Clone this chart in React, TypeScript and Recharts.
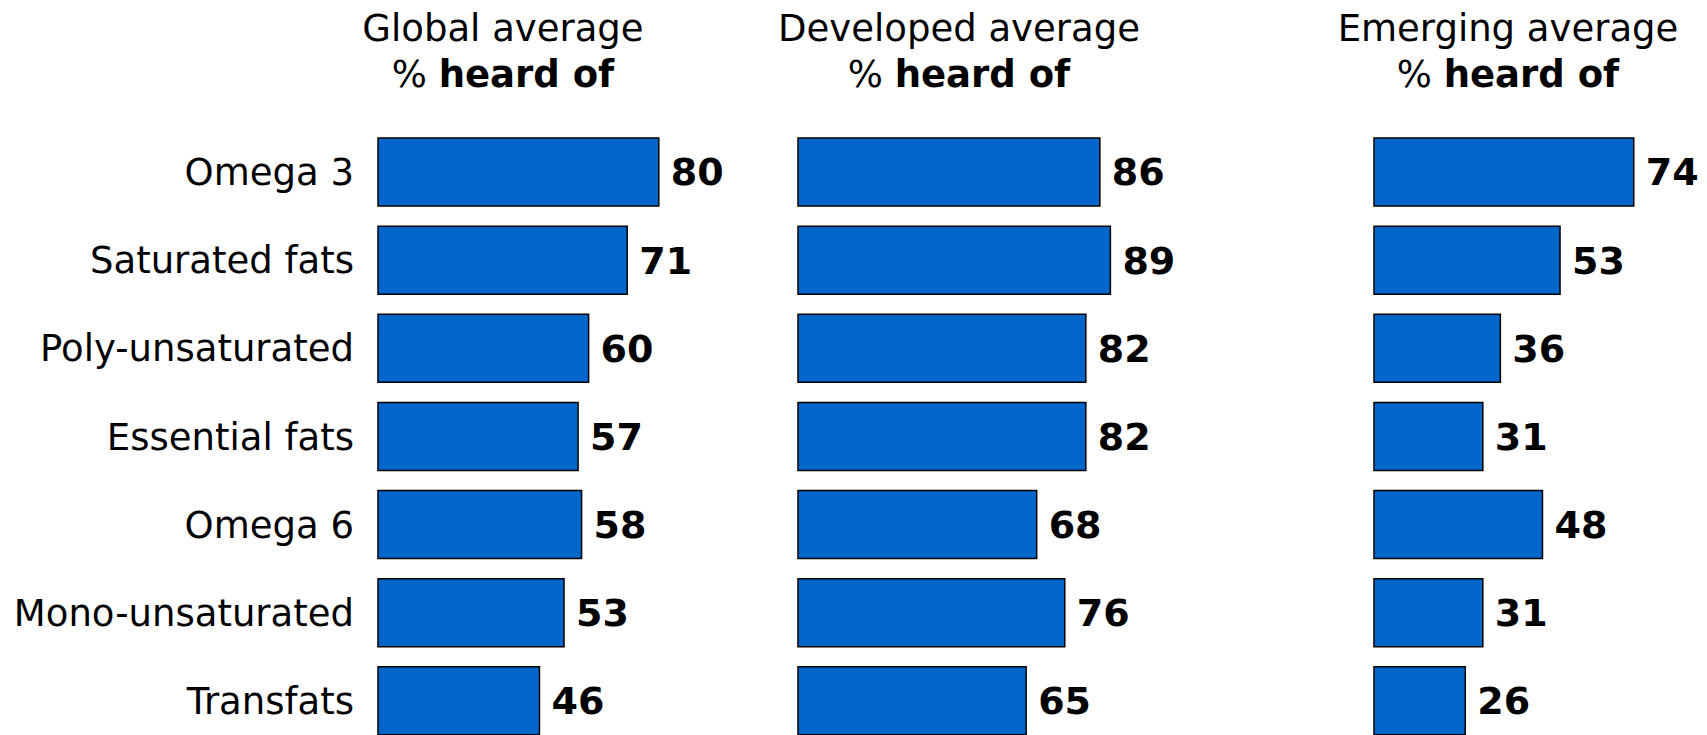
import React from 'react';
import { BarChart, Bar, XAxis, YAxis, LabelList } from 'recharts';

const categories = ['Omega 3', 'Saturated fats', 'Poly-unsaturated', 'Essential fats', 'Omega 6', 'Mono-unsaturated', 'Transfats'];
const globalValues = [80, 71, 60, 57, 58, 53, 46];
const developedValues = [86, 89, 82, 82, 68, 76, 65];
const emergingValues = [74, 53, 36, 31, 48, 31, 26];
const panelTitles = ['Global average', 'Developed average', 'Emerging average'];

const FONT = '"DejaVu Sans", Verdana, sans-serif';
const BAR_FILL = '#0066CC';

const buildRows = (values: number[]) => categories.map((name, i) => ({ name, value: values[i] }));

interface PanelProps {
    values: number[];
    left: number;
    showLabels: boolean;
}

const Panel: React.FC<PanelProps> = ({ values, left, showLabels }) => {
    const axisWidth = showLabels ? 378 : 5;
    const plotWidth = 351; // 0..100 scale
    return (
        <div style={{ position: 'absolute', top: 0, left }}>
            <BarChart
                width={axisWidth + plotWidth + 90}
                height={760}
                data={buildRows(values)}
                layout="vertical"
                margin={{ top: 128, right: 90, bottom: 15, left: 0 }}
                barSize={68}
            >
                <XAxis type="number" domain={[0, 100]} hide />
                <YAxis
                    type="category"
                    dataKey="name"
                    width={axisWidth}
                    axisLine={false}
                    tickLine={false}
                    tickSize={0}
                    tickMargin={24}
                    interval={0}
                    tick={showLabels ? { fontSize: 37, fill: '#000', fontFamily: FONT } : false}
                />
                <Bar dataKey="value" fill={BAR_FILL} stroke="#000" strokeWidth={1.5} isAnimationActive={false}>
                    <LabelList
                        dataKey="value"
                        position="right"
                        offset={12}
                        style={{ fontSize: 38, fontWeight: 'bold', fill: '#000', fontFamily: FONT }}
                    />
                </Bar>
            </BarChart>
        </div>
    );
};

const titleCenters = [503, 959, 1508];

const App: React.FC = () => {
    return (
        <div style={{ position: 'absolute', top: 0, left: 0, width: 1707, height: 735, overflow: 'hidden', background: '#fff', fontFamily: FONT }}>
            {panelTitles.map((t, i) => (
                <div
                    key={t}
                    style={{
                        position: 'absolute',
                        top: 6,
                        left: titleCenters[i] - 250,
                        width: 500,
                        textAlign: 'center',
                        fontSize: 37,
                        lineHeight: '46px',
                        color: '#000',
                    }}
                >
                    <div>{t}</div>
                    <div>% <b>heard of</b></div>
                </div>
            ))}
            <Panel values={globalValues} left={0} showLabels />
            <Panel values={developedValues} left={793} showLabels={false} />
            <Panel values={emergingValues} left={1369} showLabels={false} />
        </div>
    );
};

export default App;
